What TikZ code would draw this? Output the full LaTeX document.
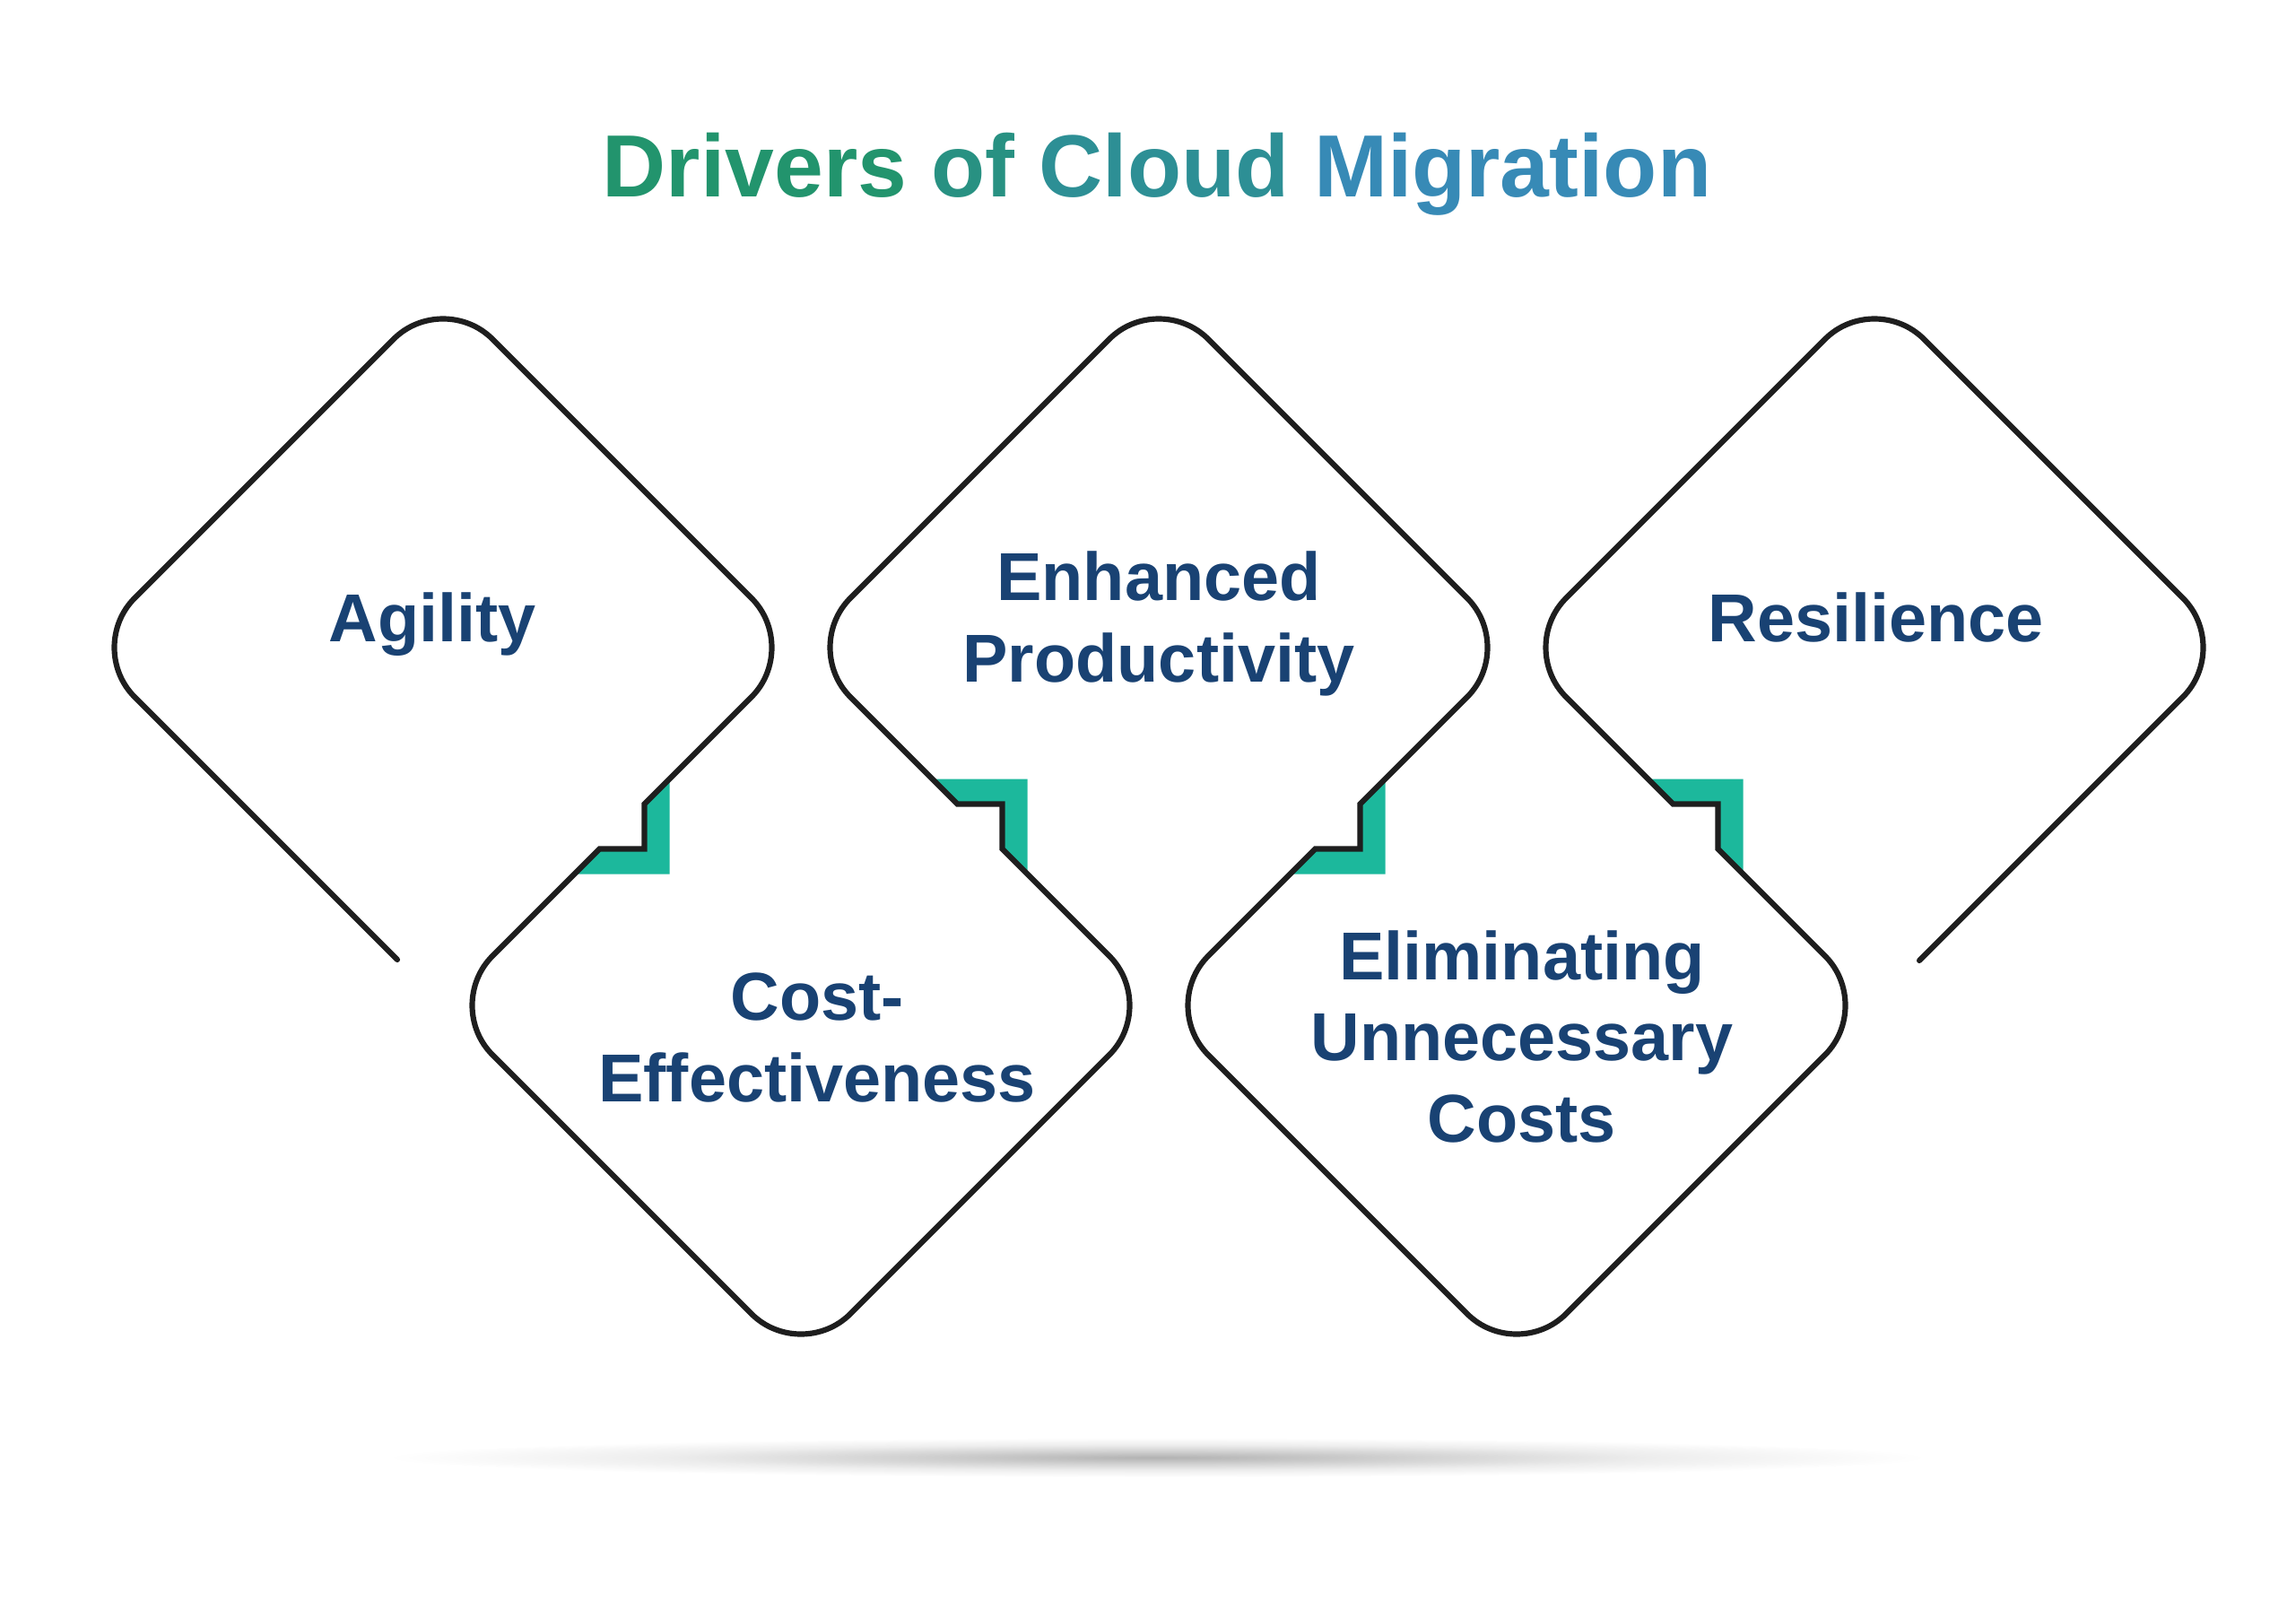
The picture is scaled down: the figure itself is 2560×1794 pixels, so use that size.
\documentclass[tikz,border=0pt]{standalone}
\usepackage{fontspec}
\setmainfont{Liberation Sans}
\usepackage{xcolor}
\definecolor{navy}{RGB}{25,66,115}
\definecolor{tealgreen}{RGB}{28,184,156}
\definecolor{inkline}{RGB}{30,30,30}
\definecolor{titlegreen}{RGB}{30,150,95}
\definecolor{titleblue}{RGB}{60,136,200}
\pgfdeclareradialshading{floorshadow}{\pgfpointorigin}{color(0bp)=(black!30);
  color(8bp)=(black!18); color(16bp)=(black!7); color(25bp)=(white); color(50bp)=(white)}

\begin{document}
\begin{tikzpicture}[
  x=0.01cm,y=-0.01cm,
  drivertext/.style={text=navy,align=center,anchor=base,inner sep=0pt,
    font=\fontsize{21.5pt}{25.6pt}\selectfont\bfseries},
  outline/.style={draw=inkline,line width=1.75pt,line cap=round,line join=miter},
  notchfill/.style={fill=tealgreen}
]
\useasboundingbox[fill=white] (0,0) rectangle (2560,1794);

% title
\node[anchor=base,inner sep=0pt,font=\fontsize{28pt}{32pt}\selectfont\bfseries] (title) at (1290,220)
  {\textcolor{titleblue!13!titlegreen}{Drivers} \textcolor{titleblue!33!titlegreen}{of}
   \textcolor{titleblue!51!titlegreen}{Cloud} \textcolor{titleblue!83!titlegreen}{Migration}};

% floor shadow
\shade[shading=floorshadow] (1290,1625) ellipse (860 and 22);

% green steps at the joints
\foreach \mx in {693.5,1491.5}
  \fill[notchfill] (\mx+25,896.5) -- (\mx+53,868.5) -- (\mx+53,974.5) -- (\mx-53,974.5)
    -- (\mx-25,946.5) -- (\mx+25,946.5) -- cycle;
\foreach \mx in {1092.5,1890.5}
  \fill[notchfill] (\mx-25,896.5) -- (\mx-53,868.5) -- (\mx+53,868.5) -- (\mx+53,974.5)
    -- (\mx+25,946.5) -- (\mx+25,896.5) -- cycle;

% zigzag of diamonds
\draw[outline] (443,1070)
  -- (150,777) .. controls +(-30,-30) and +(-30,30) .. (150,667)
  -- (439,378) .. controls +(30,-30) and +(-30,-30) .. (549,378)
  -- (838,667) .. controls +(30,30) and +(30,-30) .. (838,777)
  -- (718.5,896.5) -- (718.5,946.5) -- (668.5,946.5)
  -- (549,1066) .. controls +(-30,30) and +(-30,-30) .. (549,1176)
  -- (838,1465) .. controls +(30,30) and +(-30,30) .. (948,1465)
  -- (1237,1176) .. controls +(30,-30) and +(30,30) .. (1237,1066)
  -- (1117.5,946.5) -- (1117.5,896.5) -- (1067.5,896.5)
  -- (948,777) .. controls +(-30,-30) and +(-30,30) .. (948,667)
  -- (1237,378) .. controls +(30,-30) and +(-30,-30) .. (1347,378)
  -- (1636,667) .. controls +(30,30) and +(30,-30) .. (1636,777)
  -- (1516.5,896.5) -- (1516.5,946.5) -- (1466.5,946.5)
  -- (1347,1066) .. controls +(-30,30) and +(-30,-30) .. (1347,1176)
  -- (1636,1465) .. controls +(30,30) and +(-30,30) .. (1746,1465)
  -- (2035,1176) .. controls +(30,-30) and +(30,30) .. (2035,1066)
  -- (1915.5,946.5) -- (1915.5,896.5) -- (1865.5,896.5)
  -- (1746,777) .. controls +(-30,-30) and +(-30,30) .. (1746,667)
  -- (2035,378) .. controls +(30,-30) and +(-30,-30) .. (2145,378)
  -- (2434,667) .. controls +(30,30) and +(30,-30) .. (2434,777)
  -- (2140,1071);

% labels (base = last line)
\node[drivertext] (agility) at (482,715) {Agility};
\node[drivertext] (costeff) at (911,1228) {Cost-\\Effectiveness};
\node[drivertext] (enhprod) at (1292,760) {Enhanced\\Productivity};
\node[drivertext] (elimcost) at (1697,1273) {Eliminating\\Unnecessary\\Costs};
\node[drivertext] (resil) at (2092,715) {Resilience};
\end{tikzpicture}
\end{document}
